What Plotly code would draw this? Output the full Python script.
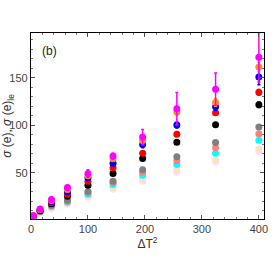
import plotly.graph_objects as go

x_vals = [4, 16, 36, 64, 100, 144, 196, 256, 324, 400]

magenta = [5.0, 12.1, 22.0, 34.6, 49.3, 67.6, 87.6, 117.4, 138.0, 171.4]
orange  = [4.8, 11.4, 20.9, 32.5, 46.9, 64.8, 84.1, 113.9, 124.0, 161.3]
blue    = [4.7, 11.0, 19.8, 30.0, 44.8, 60.2, 79.9, 100.2, 119.5, 150.7]
red     = [4.6, 10.6, 18.5, 27.6, 41.3, 55.3, 70.7, 90.7, 113.2, 134.6]
black   = [4.5, 10.2, 17.4, 25.5, 37.1, 49.3, 65.1, 82.3, 100.6, 121.6]
gray    = [4.3, 9.6, 16.0, 21.3, 30.4, 41.3, 53.2, 66.9, 81.9, 98.1]
salmon  = [4.2, 9.3, 15.3, 20.2, 29.0, 39.9, 50.7, 62.7, 76.3, 91.1]
cyan    = [4.1, 9.0, 14.6, 19.2, 27.6, 37.8, 47.6, 58.8, 70.7, 84.4]
peach   = [4.0, 8.5, 13.5, 17.8, 25.8, 34.6, 43.4, 52.2, 63.4, 75.0]
pink    = [3.9, 7.9, 12.1, 16.7, 24.4, 32.8, 41.3, 50.7, 61.3, 72.1]

magenta_err = [0.5, 1.0, 2.5, 2.0, 4.0, 3.0, 8.0, 17.0, 17.0, 26.0]
orange_err  = [0.3, 0.5, 1.0, 1.0, 2.0, 2.0, 3.0, 3.0, 4.0, 5.0]
blue_err    = [0.3, 0.5, 1.0, 1.5, 2.0, 2.5, 3.5, 3.0, 4.0, 8.0]
red_err     = [0.2, 0.4, 0.6, 1.0, 1.5, 1.5, 1.5, 2.0, 2.5, 3.0]
black_err   = [0.2, 0.3, 0.5, 0.8, 1.0, 1.0, 1.5, 1.5, 2.0, 3.0]
light_err   = [0.1, 0.2, 0.3, 0.4, 0.5, 0.6, 0.8, 1.0, 1.0, 1.2]

series = [
    (pink, light_err, "#FFDFFF"),
    (peach, light_err, "#FFE0C2"),
    (cyan, light_err, "#00FFFF"),
    (salmon, light_err, "#FF8080"),
    (gray, light_err, "#808080"),
    (black, black_err, "#000000"),
    (red, red_err, "#FF0000"),
    (blue, blue_err, "#0000FF"),
    (orange, orange_err, "#FF8C1A"),
    (magenta, magenta_err, "#FF00FF"),
]

fig = go.Figure()
for ys, errs, col in series:
    fig.add_trace(go.Scatter(
        x=x_vals, y=ys, mode="markers",
        marker=dict(color=col, size=7, line=dict(width=0)),
        error_y=dict(type="data", array=errs, color=col, thickness=1.5, width=1.5),
        showlegend=False, cliponaxis=True,
    ))

axis_common = dict(
    showline=True, linecolor="black", linewidth=1.2, mirror="ticks",
    ticks="inside", ticklen=4, tickcolor="#555", showgrid=False, zeroline=False,
    automargin=False,
    tickfont=dict(family="Liberation Sans, Arial", size=11, color="#444"),
)
fig.update_xaxes(range=[0, 409], tickvals=[0, 100, 200, 300, 400],
                 minor=dict(dtick=20, ticks="inside", ticklen=2, tickcolor="#777"),
                 title=dict(text="ΔT<sup>2</sup>", standoff=4,
                            font=dict(family="Liberation Sans, Arial", size=12, color="#333")),
                 **axis_common)
fig.update_yaxes(range=[1.5, 197], tickvals=[50, 100, 150],
                 minor=dict(dtick=10, ticks="inside", ticklen=2, tickcolor="#777"),
                 title=dict(text="<i>σ</i> (e), <i>σ</i> (e)<sub>le</sub>", standoff=2,
                            font=dict(family="Liberation Sans, Arial", size=12, color="#333")),
                 **axis_common)

fig.add_annotation(x=0.04, y=0.95, xref="paper", yref="paper", text="(b)",
                   showarrow=False, xanchor="left", yanchor="top",
                   font=dict(family="Liberation Sans, Arial", size=12, color="#222"))

fig.update_layout(width=273, height=273, margin=dict(l=31, r=9, t=33, b=54),
                  plot_bgcolor="white", paper_bgcolor="white")
fig.write_html("out.html", config={"displayModeBar": False},
               post_script="document.body.style.margin='0';document.body.style.overflow='hidden';")
